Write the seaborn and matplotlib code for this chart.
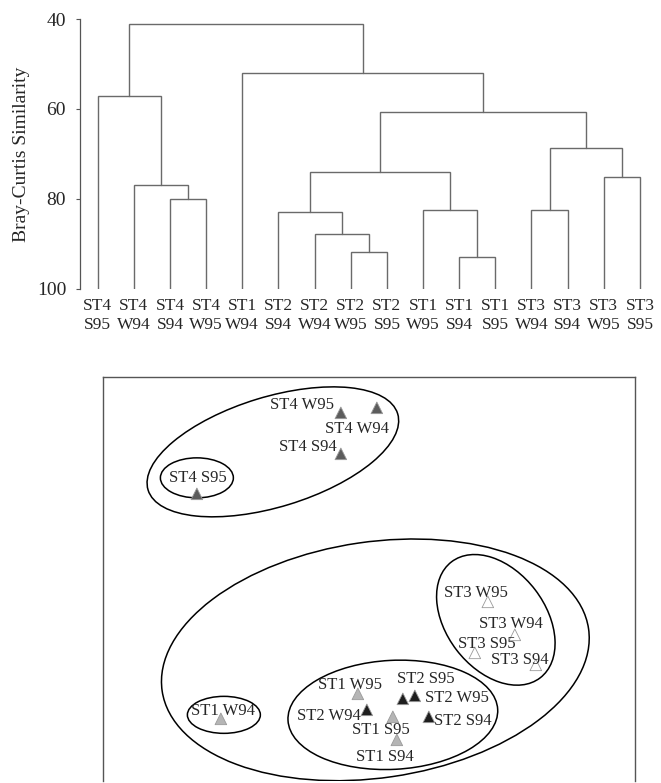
import matplotlib
matplotlib.use("Agg")
import matplotlib.pyplot as plt
from matplotlib.patches import Ellipse
import seaborn as sns
import pandas as pd

# --- dendrogram data (leaf order as drawn) ---
leaf_labels = ["ST4\nS95", "ST4\nW94", "ST4\nS94", "ST4\nW95", "ST1\nW94",
               "ST2\nS94", "ST2\nW94", "ST2\nW95", "ST2\nS95", "ST1\nW95",
               "ST1\nS94", "ST1\nS95", "ST3\nW94", "ST3\nS94", "ST3\nW95",
               "ST3\nS95"]
# merges: (child a, child b, similarity); ids >= 16 refer to earlier merges
merge_a = [10, 7, 6, 5, 12, 9, 2, 1, 14, 19, 20, 25, 4, 0, 29]
merge_b = [11, 8, 17, 18, 13, 16, 3, 22, 15, 21, 24, 26, 27, 23, 28]
merge_sim = [93.0, 91.9, 87.8, 83.0, 82.6, 82.5, 80.0, 77.0, 75.1,
             74.1, 68.7, 60.7, 52.0, 57.1, 41.1]

# --- MDS ordination data ---
samples = ["ST4 W95", "ST4 W94", "ST4 S94", "ST4 S95",
           "ST3 W95", "ST3 W94", "ST3 S95", "ST3 S94",
           "ST1 W95", "ST2 S95", "ST2 W95", "ST2 W94",
           "ST1 S95", "ST2 S94", "ST1 S94", "ST1 W94"]
mds_x = [-0.28, 0.08, -0.28, -1.72, 1.19, 1.46, 1.06, 1.67,
         -0.11, 0.34, 0.46, -0.02, 0.24, 0.60, 0.28, -1.48]
mds_y = [1.66, 1.71, 1.25, 0.85, -0.23, -0.56, -0.74, -0.86,
         -1.15, -1.20, -1.17, -1.31, -1.38, -1.38, -1.61, -1.40]
# label offsets from each point (pixels)
label_dx = [-39, -20, -33, 1, -12, -4, 12, -16, -8, 23, 42, -38, -12, 34, -12, 2]
label_dy = [8, -21, 7, 16, 9, 11, 9, 5, 9, 20, -2, -6, -13, -4, -17, 8]

# cluster ellipses: centre x, centre y, width, height, angle
ell_x = [-0.96, -1.72, 0.065, 1.27, 0.24, -1.45]
ell_y = [1.27, 1.01, -0.81, -0.41, -1.36, -1.36]
ell_w = [2.61, 0.73, 4.31, 1.46, 2.10, 0.73]
ell_h = [1.10, 0.40, 2.36, 0.99, 1.09, 0.37]
ell_a = [17, 0, 8.3, -52.6, 3, 0]

site_colors = {"ST1": "#b5b5b5", "ST2": "#1e1e1e", "ST3": "#ffffff", "ST4": "#5c5c5c"}

sns.set_theme(style="white")
plt.rcParams["font.family"] = ["Liberation Serif", "DejaVu Serif"]

fig = plt.figure(figsize=(6.61, 7.83), dpi=100)

# ---------------- dendrogram ----------------
ax1 = fig.add_axes([80 / 661, 1 - 288.7 / 783, 578 / 661, (288.7 - 19) / 783])
n = len(leaf_labels)
pos = {i: float(i) for i in range(n)}
hgt = {i: 100.0 for i in range(n)}
for k, (a, b, s) in enumerate(zip(merge_a, merge_b, merge_sim)):
    xa, xb = pos[a], pos[b]
    ax1.plot([xa, xa, xb, xb], [hgt[a], s, s, hgt[b]], color="#6a6a6a", lw=1.0,
             solid_joinstyle="miter")
    pos[n + k] = (xa + xb) / 2
    hgt[n + k] = s

ax1.set_xlim(-0.49, n - 0.5)
ax1.set_ylim(100, 40)
ax1.set_yticks([40, 60, 80, 100])
ax1.set_xticks(range(n))
ax1.set_xticklabels(leaf_labels, fontsize=12.5, linespacing=1.25)
ax1.tick_params(axis="x", length=0, pad=7)
ax1.tick_params(axis="y", length=3, width=0.8, color="#555555", pad=7,
                labelsize=14, left=True)
ax1.set_ylabel("Bray-Curtis Similarity", fontsize=14, labelpad=5)
sns.despine(ax=ax1, bottom=True)
ax1.spines["left"].set_color("#555555")
ax1.spines["left"].set_linewidth(0.9)

# ---------------- MDS plot ----------------
ax2 = fig.add_axes([102.7 / 661, 2 / 783, 532.3 / 661, 404.3 / 783])
df = pd.DataFrame({"x": mds_x, "y": mds_y, "sample": samples})
df["site"] = df["sample"].str[:3]
sns.scatterplot(data=df, x="x", y="y", hue="site", palette=site_colors,
                marker="^", s=70, edgecolor="#9a9a9a", linewidth=0.6,
                legend=False, ax=ax2, zorder=3)
for sx, sy, lab, dx, dy in zip(mds_x, mds_y, samples, label_dx, label_dy):
    ax2.annotate(lab, (sx, sy), xytext=(dx, dy), textcoords="offset pixels",
                 ha="center", va="center", fontsize=12, zorder=4)
for cx, cy, w, h, a in zip(ell_x, ell_y, ell_w, ell_h, ell_a):
    ax2.add_patch(Ellipse((cx, cy), w, h, angle=a, fill=False,
                          edgecolor="black", lw=1.1))

ax2.set_xlim(-2.662, 2.662)
ax2.set_ylim(-2.0215, 2.0215)
ax2.set_xticks([])
ax2.set_yticks([])
ax2.set_xlabel("")
ax2.set_ylabel("")
for sp in ax2.spines.values():
    sp.set_color("#555555")
    sp.set_linewidth(1.0)
ax2.spines["bottom"].set_visible(False)

fig.savefig("out.png", dpi=100)
